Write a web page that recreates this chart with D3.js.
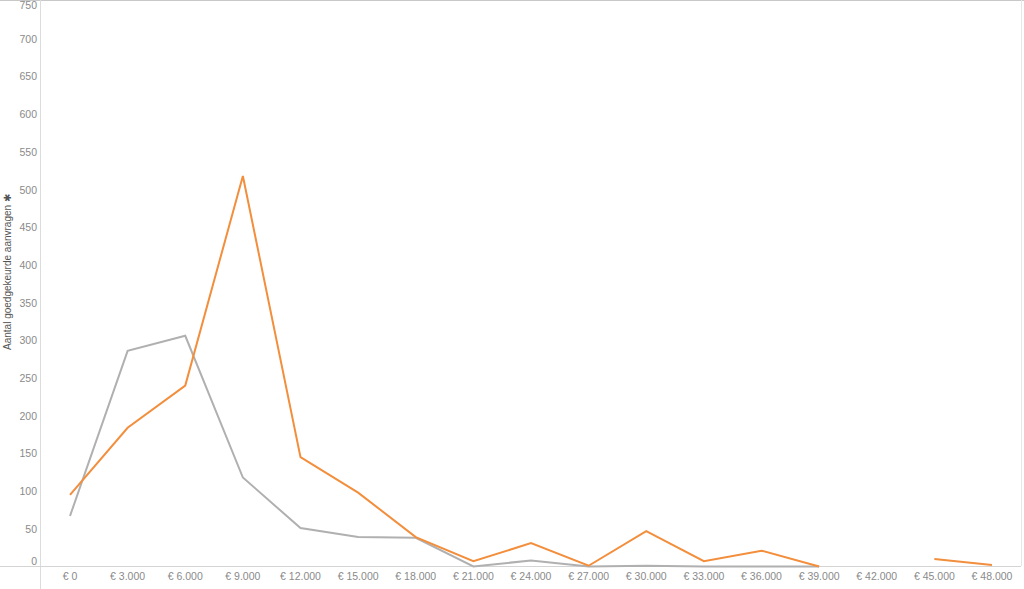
<!DOCTYPE html>
<html><head><meta charset="utf-8">
<script src="https://cdn.jsdelivr.net/npm/d3@7"></script>
<style>body{margin:0;background:#fff;}svg{display:block;font-family:"Liberation Sans",Arial,sans-serif;}</style>
</head><body><svg id="c" width="1024" height="589"></svg>
<script>
const categories = [0,3000,6000,9000,12000,15000,18000,21000,24000,27000,30000,33000,36000,39000,42000,45000,48000];
const seriesOrange = [95,184,240,518,145,98,39,7,31,1,47,7,21,0,null,10,2];
const seriesGray = [67,286,306,118,51,39,38,0,8,0,1,0,0,0,null,null,null];
const yTicks = [0,50,100,150,200,250,300,350,400,450,500,550,600,650,700,750];
const yTitle = "Aantal goedgekeurde aanvragen";

const svg = d3.select("#c");
const x = d3.scaleLinear().domain([0,48000]).range([70,992]);
const y = d3.scaleLinear().domain([0,750]).range([566.5,1]);
const fmt = v => "€ " + d3.format(",")(v).replace(/,/g,".");

// frame lines
svg.append("line").attr("x1",0).attr("x2",1024).attr("y1",0.5).attr("y2",0.5).attr("stroke","#c8c8c8");
svg.append("line").attr("x1",40.5).attr("x2",40.5).attr("y1",0).attr("y2",589).attr("stroke","#dcdcdc");
svg.append("line").attr("x1",1021.5).attr("x2",1021.5).attr("y1",0).attr("y2",566).attr("stroke","#e6e6e6");
svg.append("line").attr("x1",0).attr("x2",1021).attr("y1",566.5).attr("y2",566.5).attr("stroke","#d4d4d4");

// y tick labels
svg.append("g").selectAll("text").data(yTicks).join("text")
  .attr("x",37).attr("y",d => d===0 ? y(d)-2 : d===750 ? y(d)+8 : y(d)+4)
  .attr("text-anchor","end").attr("font-size",10.5).attr("fill","#8a8a8a").text(d=>d);

// x tick labels
svg.append("g").selectAll("text").data(categories).join("text")
  .attr("x",d=>x(d)).attr("y",580).attr("text-anchor","middle")
  .attr("font-size",10.5).attr("fill","#8a8a8a").text(fmt);

// y title
svg.append("text").attr("transform","translate(11,350) rotate(-90)")
  .attr("font-size",10).attr("fill","#555").text(yTitle + " ✱");

const line = d3.line().defined(d=>d[1]!==null).x(d=>x(d[0])).y(d=>y(d[1]));
svg.append("path").datum(categories.map((c,i)=>[c,seriesGray[i]]))
  .attr("d",line).attr("fill","none").attr("stroke","#b0b0b0").attr("stroke-width",2);
svg.append("path").datum(categories.map((c,i)=>[c,seriesOrange[i]]))
  .attr("d",line).attr("fill","none").attr("stroke","#f28e3c").attr("stroke-width",2);
</script></body></html>
